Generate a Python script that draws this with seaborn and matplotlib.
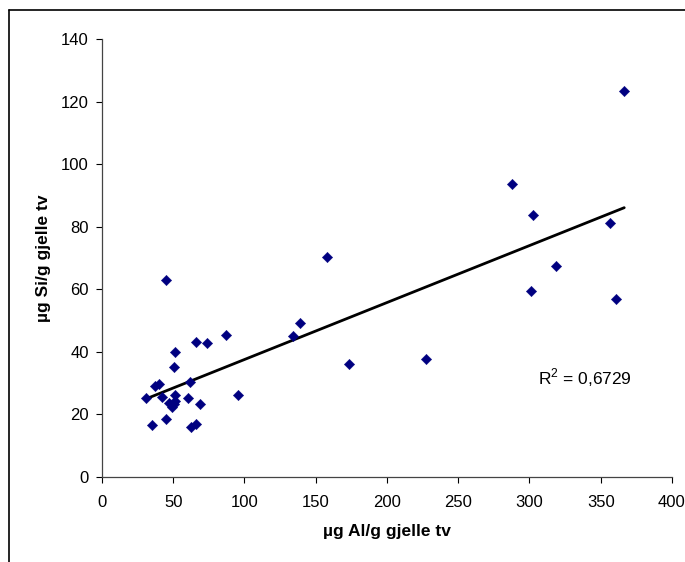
import matplotlib
matplotlib.use("Agg")
import matplotlib.pyplot as plt
import seaborn as sns
import pandas as pd
import numpy as np
from matplotlib.lines import Line2D

al = [366.5, 287.9, 302.3, 356.7, 157.9, 318.6, 44.9, 301.4, 360.7, 138.9,
      134.3, 86.7, 65.9, 73.6, 51.5, 227.6, 173.3, 50.6, 62.0, 37.3,
      40.1, 95.3, 51.3, 31.1, 41.9, 60.1, 68.5, 47.3, 51.5, 49.0,
      50.3, 44.9, 35.2, 62.2, 65.9]
si = [123.4, 93.8, 83.8, 81.2, 70.4, 67.3, 63.0, 59.5, 56.9, 49.1,
      45.2, 45.3, 43.1, 42.7, 40.0, 37.8, 36.1, 35.2, 30.5, 29.1,
      29.6, 26.1, 26.2, 25.3, 25.5, 25.4, 23.5, 23.8, 24.3, 22.5,
      23.3, 18.7, 16.6, 16.1, 17.0]
r2_text = r"R$^{\mathrm{2}}$ = 0,6729"
x_label = "µg Al/g gjelle tv"
y_label = "µg Si/g gjelle tv"

df = pd.DataFrame({"al": al, "si": si})

sns.set_style("white")
plt.rcParams["font.family"] = ["Liberation Sans", "DejaVu Sans"]
plt.rcParams["mathtext.fontset"] = "custom"
plt.rcParams["mathtext.rm"] = "Liberation Sans"
plt.rcParams["text.color"] = "black"
plt.rcParams["axes.labelcolor"] = "black"

fig = plt.figure(figsize=(6.85, 5.62), dpi=100)
ax = fig.add_axes([0.1489, 0.1512, 0.981 - 0.1489, 0.9306 - 0.1512])

sns.scatterplot(data=df, x="al", y="si", marker="D", s=28, color="#000080",
                edgecolor="#000080", linewidth=0.3, ax=ax, zorder=3)
sns.regplot(data=df, x="al", y="si", ci=None, scatter=False, truncate=True,
            line_kws={"color": "black", "lw": 2}, ax=ax)

ax.set_xlim(0, 400)
ax.set_ylim(0, 140)
ax.set_xticks(range(0, 401, 50))
ax.set_yticks(range(0, 141, 20))
ax.tick_params(axis="both", direction="out", length=4, width=0.8, colors="black",
               labelsize=12, left=True, bottom=True)
ax.tick_params(axis="x", pad=9)
ax.tick_params(axis="y", pad=5.5)
for s in ["top", "right"]:
    ax.spines[s].set_visible(False)
for s in ["left", "bottom"]:
    ax.spines[s].set_color("#444444")
    ax.spines[s].set_linewidth(0.9)

ax.set_xlabel(x_label, fontsize=12.5, fontweight="bold", labelpad=10, color="black")
ax.set_ylabel(y_label, fontsize=12.5, fontweight="bold", labelpad=7, color="black")

ax.text(306, 31.6, r2_text, fontsize=12.5, va="center", ha="left", color="black")

# outer frame (left and top edges visible)
fig.add_artist(Line2D([9 / 685, 9 / 685], [0, 1 - 9.5 / 562], transform=fig.transFigure,
                      color="black", lw=1.2))
fig.add_artist(Line2D([9 / 685, 1], [1 - 9.5 / 562, 1 - 9.5 / 562], transform=fig.transFigure,
                      color="black", lw=1.2))

fig.savefig("out.png", dpi=100)
